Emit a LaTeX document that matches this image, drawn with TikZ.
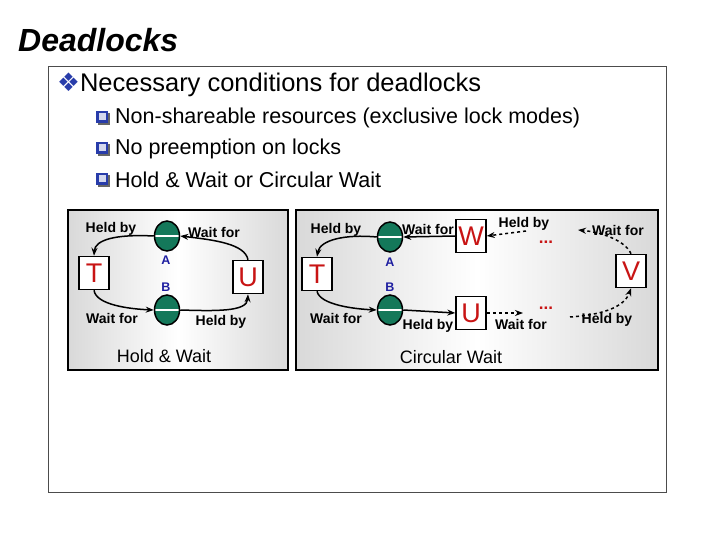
\documentclass[tikz,border=0pt]{standalone}
\usepackage{fontspec}
\setmainfont{Liberation Sans}
\newfontfamily\djv{DejaVu Sans}
\usetikzlibrary{shapes.geometric,arrows.meta}
\definecolor{res}{RGB}{20,120,90}
\definecolor{tred}{RGB}{200,20,20}
\definecolor{lblue}{RGB}{30,30,160}
\definecolor{qblue}{RGB}{40,60,170}
\begin{document}
\begin{tikzpicture}[x=1pt,y=-1pt,
  lbl/.style={font=\bfseries\fontsize{14}{15}\selectfont},
  box/.style={draw,line width=1.5pt,fill=white,minimum width=30,minimum height=33,inner sep=0,font=\fontsize{27}{28}\selectfont\color{tred}},
  res/.style={ellipse,draw=black,line width=1.5pt,fill=res,minimum width=25,minimum height=30,inner sep=0,
     path picture={\draw[white,line width=2pt](path picture bounding box.west)--(path picture bounding box.east);}},
  ab/.style={font=\bfseries\fontsize{12.5}{14}\selectfont\color{lblue}},
  arr/.style={line width=1.5pt,-{Stealth[length=8pt,width=6pt]}},
  darr/.style={arr,dashed},
  item/.style={anchor=west,font=\fontsize{21.5}{23}\selectfont}]
\useasboundingbox (0,0) rectangle (720,540);
\fill[white](0,0) rectangle (720,540);
\node[anchor=west,font=\bfseries\itshape\fontsize{32}{34}\selectfont,inner sep=0] (title) at (18,40) {Deadlocks};
\draw[black!70] (48,66) rectangle (666,492);
\node[anchor=west,font=\fontsize{25.5}{27}\selectfont,inner sep=0] (h) at (57,85) {{\djv\color{qblue}❖}Necessary conditions for deadlocks};
\foreach \yy/\t in {118/Non-shareable resources (exclusive lock modes),149/No preemption on locks,180/Hold \& Wait or Circular Wait}{
  \fill[black!60] (98,\yy-5) rectangle (110,\yy+7);
  \fill[qblue] (96,\yy-7) rectangle (108,\yy+5);
  \fill[white!80!qblue] (98.5,\yy-4.5) rectangle (105.5,\yy+2.5);
  \node[item,inner sep=0] at (115,\yy) {\t};}
% panels
\shade[left color=black!15,right color=black!15,middle color=white] (68,210) rectangle (288,370);
\shade[left color=black!15,right color=black!15,middle color=white] (296,210) rectangle (658,370);
\draw[line width=1.5pt] (68,210) rectangle (288,370);
\draw[line width=1.5pt] (296,210) rectangle (658,370);
% Hold & Wait
\node[box] (T1) at (94,273) {T};
\node[box] (U1) at (248,277) {U};
\node[res] (A1) at (167,236) {};
\node[res] (B1) at (167,310) {};
\node[ab] at (166,260) {A};
\node[ab] at (166,287) {B};
\draw[arr] (A1.west) .. controls (115,234) and (95,240) .. (T1.north);
\draw[arr] (U1.north) .. controls (245,244) and (215,240) .. (A1.east);
\draw[arr] (T1.south) .. controls (96,305) and (130,309) .. (B1.west);
\draw[arr] (B1.east) .. controls (215,311) and (247,312) .. (U1.south);
\node[lbl] at (111,229) {Held by};
\node[lbl] at (214,232) {Wait for};
\node[lbl] at (112,318) {Wait for};
\node[lbl] at (221,322) {Held by};
\node[font=\fontsize{18}{20}\selectfont] at (164,356) {Hold \& Wait};
% Circular Wait
\node[box] (T2) at (317,274) {T};
\node[res] (A2) at (390,237) {};
\node[res] (B2) at (390,310) {};
\node[ab] at (390,262) {A};
\node[ab] at (390,287) {B};
\node[box] (W) at (471,236) {W};
\node[box] (U2) at (471,313) {U};
\node[box] (V) at (631,271) {V};
\node[font=\bfseries\fontsize{17}{17}\selectfont\color{tred}] (d1) at (546,242) {...};
\node[font=\bfseries\fontsize{17}{17}\selectfont\color{tred}] (d2) at (546,308) {...};
\coordinate (c1) at (526,231);
\coordinate (c2) at (578,230);
\coordinate (c3) at (523,313);
\coordinate (c4) at (570,317);
\draw[arr] (A2.west) .. controls (345,234) and (320,240) .. (T2.north);
\draw[arr] (W.west) -- (A2.east);
\draw[arr] (T2.south) .. controls (320,305) and (355,309) .. (B2.west);
\draw[arr] (B2.east) -- (U2.west);
\draw[darr] (c1) -- (W.east);
\draw[darr] (V.north) .. controls (625,240) and (600,232) .. (c2);
\draw[darr] (U2.east) -- (c3);
\draw[darr] (c4) .. controls (600,315) and (624,308) .. (V.south);
\node[lbl] at (336,230) {Held by};
\node[lbl] at (336,318) {Wait for};
\node[lbl] at (428,229) {Wait for};
\node[lbl] at (428,326) {Held by};
\node[lbl] at (524,224) {Held by};
\node[lbl] at (618,230) {Wait for};
\node[lbl] at (521,324) {Wait for};
\node[lbl] at (607,320) {Held by};
\node[font=\fontsize{18}{20}\selectfont] at (451,357) {Circular Wait};
\end{tikzpicture}
\end{document}
